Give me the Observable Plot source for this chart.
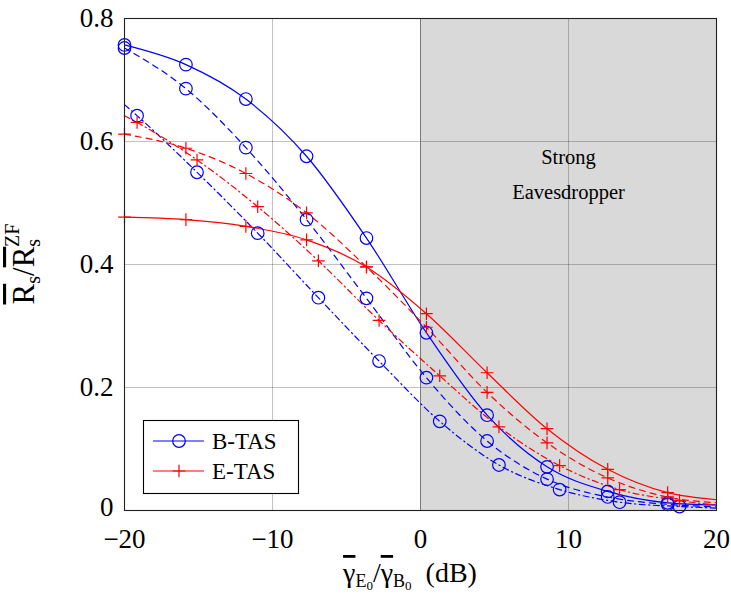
<!DOCTYPE html>
<html><head><meta charset="utf-8">
<script src="https://cdn.jsdelivr.net/npm/d3@7"></script>
<script src="https://cdn.jsdelivr.net/npm/@observablehq/plot@0.6"></script>
<style>
body{margin:0;background:#fff;}
#chart{position:relative;width:731px;height:599px;}
</style>
</head><body><div id="chart"></div>
<script>
// ---- data ----
const xDomain = [-20, 20];
const yDomain = [0, 0.8];
const xTicks = [-20, -10, 0, 10, 20];
const yTicks = [0, 0.2, 0.4, 0.6, 0.8];
const strongRegion = [0, 20];
const annotation = ["Strong", "Eavesdropper"];
const legendLabels = ["B-TAS", "E-TAS"];

// marker abscissas (dB)
const xA = [-20, -15.85, -11.8, -7.7, -3.65, 0.4, 4.5, 8.55, 12.65, 16.7];
const xB = [-19.15, -15.1, -11.0, -6.9, -2.8, 1.3, 5.3, 9.4, 13.45, 17.5];

// B-TAS (blue)
const bSolid   = [0.757, 0.725, 0.669, 0.576, 0.443, 0.289, 0.155, 0.071, 0.031, 0.0125];
const bDashed  = [0.752, 0.686, 0.590, 0.473, 0.345, 0.216, 0.113, 0.051, 0.022, 0.010];
const bDashDot = [0.642, 0.550, 0.451, 0.346, 0.243, 0.145, 0.074, 0.034, 0.0135, 0.0065];
// E-TAS (red)
const rSolid   = [0.477, 0.473, 0.462, 0.440, 0.396, 0.320, 0.224, 0.133, 0.067, 0.029];
const rDashed  = [0.612, 0.589, 0.548, 0.484, 0.396, 0.298, 0.192, 0.110, 0.053, 0.022];
const rDashDot = [0.631, 0.570, 0.494, 0.406, 0.309, 0.219, 0.136, 0.073, 0.034, 0.016];

// curve values at the left edge (dash-dot curves start before their first marker) and right edge
const bDashDotStart = 0.660, rDashDotStart = 0.642;
const bEnd = [0.009, 0.006, 0.004];
const rEnd = [0.0175, 0.0125, 0.0086];

// ---- pick an installed serif font ----
function pickSerif() {
  const cands = ["Liberation Serif", "DejaVu Serif", "Noto Serif", "Times New Roman", "Times",
                 "Tinos", "FreeSerif", "Nimbus Roman", "Nimbus Roman No9 L", "DejaVu Serif Condensed"];
  const ctx = document.createElement("canvas").getContext("2d");
  const sample = "Eavesdropper 0.123 WMiil";
  const w = f => { ctx.font = "40px " + f; return ctx.measureText(sample).width; };
  const base1 = w("monospace");
  for (const c of cands) {
    const a = w(`'${c}', monospace`), b = w(`'${c}', sans-serif`);
    if (Math.abs(a - b) < 0.01 && Math.abs(a - base1) > 0.01) return `'${c}'`;
  }
  return null;
}
const SERIF = pickSerif();
const FONT = SERIF ? SERIF + ", serif" : "'Liberation Serif', 'DejaVu Serif', serif";

// ---- build tables ----
const BLUE = "#0000ff", RED = "#ff0000";
const DASHED = "6,5", DASHDOT = "6,3.5,1.2,3.5";

function pts(xs, ys) { return xs.map((x, i) => ({x, y: ys[i]})); }
function path(xs, ys, start, end) {
  const p = pts(xs, ys);
  if (start != null) p.unshift({x: xDomain[0], y: start});
  p.push({x: xDomain[1], y: end});
  return p;
}

const plusSymbol = {
  draw(ctx, size) {
    const r = Math.sqrt(size / Math.PI);
    ctx.moveTo(-r, 0); ctx.lineTo(r, 0);
    ctx.moveTo(0, -r); ctx.lineTo(0, r);
  }
};

const curves = [
  {color: BLUE, dash: null,    xs: xA, ys: bSolid,   start: null,          end: bEnd[0], sym: "circle"},
  {color: BLUE, dash: DASHED,  xs: xA, ys: bDashed,  start: null,          end: bEnd[1], sym: "circle"},
  {color: BLUE, dash: DASHDOT, xs: xB, ys: bDashDot, start: bDashDotStart, end: bEnd[2], sym: "circle"},
  {color: RED,  dash: null,    xs: xA, ys: rSolid,   start: null,          end: rEnd[0], sym: plusSymbol},
  {color: RED,  dash: DASHED,  xs: xA, ys: rDashed,  start: null,          end: rEnd[1], sym: plusSymbol},
  {color: RED,  dash: DASHDOT, xs: xB, ys: rDashDot, start: rDashDotStart, end: rEnd[2], sym: plusSymbol},
];

const curveMarks = [];
for (const c of curves) {
  curveMarks.push(Plot.line(path(c.xs, c.ys, c.start, c.end), {
    x: "x", y: "y", stroke: c.color, strokeWidth: 1.2,
    strokeDasharray: c.dash || undefined, curve: "monotone-x"
  }));
}
for (const c of curves) {
  curveMarks.push(Plot.dot(pts(c.xs, c.ys), {
    x: "x", y: "y", symbol: c.sym, r: 6.3,
    stroke: c.color, fill: "none", strokeWidth: 1.2
  }));
}

const yFmt = d => d === 0 ? "0" : d.toFixed(1);

const plot = Plot.plot({
  width: 731, height: 599,
  marginLeft: 124, marginRight: 15, marginTop: 18, marginBottom: 89,
  x: {domain: xDomain},
  y: {domain: yDomain},
  style: {fontFamily: FONT, background: "white", overflow: "visible", color: "black"},
  marks: [
    Plot.rect([strongRegion], {x1: d => d[0], x2: d => d[1], y1: yDomain[0], y2: yDomain[1], fill: "#d9d9d9"}),
    Plot.gridX(xTicks.slice(1, -1), {stroke: "#000", strokeOpacity: 0.24, strokeWidth: 1}),
    Plot.gridY(yTicks.slice(1, -1), {stroke: "#000", strokeOpacity: 0.24, strokeWidth: 1}),
    Plot.ruleX([strongRegion[0]], {stroke: "#7a7a7a", strokeWidth: 1}),
    ...curveMarks,
    Plot.text([annotation.join("\n")], {
      x: 10, y: 0.553, text: d => d, fontSize: 20.5, lineHeight: 1.7,
      fontFamily: FONT, fill: "black"
    }),
    Plot.frame({stroke: "#222", strokeWidth: 1.1}),
    Plot.axisX(xTicks, {
      tickSize: 0, tickPadding: 18, fontSize: 27, fontFamily: FONT, label: null,
      tickFormat: d => d < 0 ? "\u2212" + Math.abs(d) : String(d)
    }),
    Plot.axisY(yTicks.slice(1), {
      tickSize: 0, tickPadding: 11, fontSize: 27, fontFamily: FONT, label: null,
      tickFormat: yFmt
    }),
    Plot.axisY(yTicks.slice(0, 1), {
      tickSize: 0, tickPadding: 11, fontSize: 27, fontFamily: FONT, label: null,
      tickFormat: yFmt, dy: -3
    })
  ]
});

document.getElementById("chart").appendChild(plot);

// ---- axis labels and legend (real SVG text) ----
const svg = d3.select(plot);

// x label: γ̄_{E0} / γ̄_{B0} (dB)
const xl = svg.append("text")
  .attr("x", 410).attr("y", 582)
  .attr("text-anchor", "middle")
  .attr("font-family", FONT).attr("font-size", 28).attr("fill", "black");
xl.append("tspan").attr("text-decoration", "overline").text("γ");
xl.append("tspan").attr("font-size", 18).attr("dy", 5).text("E");
xl.append("tspan").attr("font-size", 13).attr("dy", 3).text("0");
xl.append("tspan").attr("dy", -8).text("/");
xl.append("tspan").attr("text-decoration", "overline").text("γ");
xl.append("tspan").attr("font-size", 18).attr("dy", 5).text("B");
xl.append("tspan").attr("font-size", 13).attr("dy", 3).text("0");
xl.append("tspan").attr("dy", -8).text("\u2002(dB)");

// y label: R̄s / R̄s^ZF
const yl = svg.append("text")
  .attr("transform", "translate(34,264) rotate(-90)")
  .attr("text-anchor", "middle")
  .attr("font-family", FONT).attr("font-size", 31).attr("fill", "black");
yl.append("tspan").attr("text-decoration", "overline").text("R");
yl.append("tspan").attr("font-size", 20).attr("dy", 6).text("s");
yl.append("tspan").attr("dy", -6).text("/");
yl.append("tspan").attr("text-decoration", "overline").text("R");
yl.append("tspan").attr("font-size", 20).attr("dy", 6).text("s");
yl.append("tspan").attr("font-size", 20).attr("dy", -21).attr("dx", -8).text("ZF");

// legend box
const lg = svg.append("g").attr("text-anchor", "start");
lg.append("rect").attr("x", 143.5).attr("y", 420.5).attr("width", 155).attr("height", 73)
  .attr("fill", "white").attr("stroke", "black").attr("stroke-width", 1.1);
const legendRows = [
  {label: legendLabels[0], color: BLUE, sym: "circle", y: 441},
  {label: legendLabels[1], color: RED, sym: "plus", y: 471}
];
for (const r of legendRows) {
  lg.append("line").attr("x1", 153).attr("x2", 204).attr("y1", r.y).attr("y2", r.y)
    .attr("stroke", r.color).attr("stroke-width", 1.2);
  if (r.sym === "circle") {
    lg.append("circle").attr("cx", 179).attr("cy", r.y).attr("r", 6.3)
      .attr("fill", "none").attr("stroke", r.color).attr("stroke-width", 1.2);
  } else {
    lg.append("path").attr("d", d3.symbol(plusSymbol, Math.PI * 6.3 * 6.3)())
      .attr("transform", `translate(179,${r.y})`)
      .attr("fill", "none").attr("stroke", r.color).attr("stroke-width", 1.2);
  }
  lg.append("text").attr("x", 212).attr("y", r.y + 8).attr("text-anchor", "start")
    .attr("font-family", FONT).attr("font-size", 23).attr("fill", "black").text(r.label);
}
</script>
</body></html>
